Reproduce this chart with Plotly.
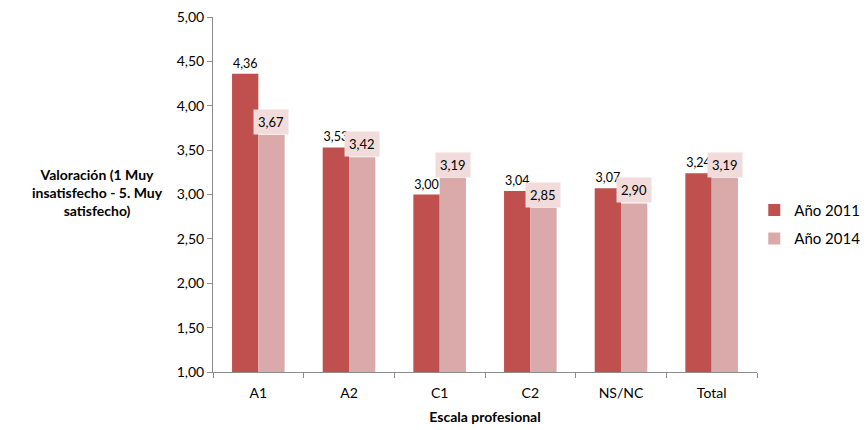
import plotly.graph_objects as go

categories = ["A1", "A2", "C1", "C2", "NS/NC", "Total"]
v2011 = [4.36, 3.53, 3.00, 3.04, 3.07, 3.24]
v2014 = [3.67, 3.42, 3.19, 2.85, 2.90, 3.19]
series_names = ["Año 2011", "Año 2014"]
ytick_vals = [1.0, 1.5, 2.0, 2.5, 3.0, 3.5, 4.0, 4.5, 5.0]

FONT = "Lato"
c2011 = "#C0504D"
c2014 = "#DAA9A9"

def fmt(v):
    return f"{v:.2f}".replace(".", ",")

fig = go.Figure()
fig.add_trace(go.Bar(x=categories, y=v2011, name=series_names[0], marker_color=c2011,
                     marker_line_width=0, legendgroup="a",
                     text=[fmt(v) for v in v2011], textposition="outside",
                     textfont=dict(size=12.5, color="#000000", family=FONT), cliponaxis=False))
fig.add_trace(go.Bar(x=categories, y=v2014, name=series_names[1], marker_color=c2014,
                     marker_line_width=0, legendgroup="b"))

for c, v in zip(categories, v2014):
    fig.add_annotation(x=c, y=v, text=fmt(v), showarrow=False, xshift=13, yshift=0,
                       yanchor="bottom", bgcolor="#F2DCDB", borderpad=4,
                       font=dict(size=13, color="#000000", family=FONT))

fig.add_annotation(xref="paper", yref="paper", x=-0.213, y=0.505,
                   text="<b>Valoración (1 Muy<br>insatisfecho - 5. Muy<br>satisfecho)</b>",
                   showarrow=False, align="center", xanchor="center", yanchor="middle",
                   font=dict(size=14, color="#000000", family=FONT))

fig.update_layout(
    width=860, height=422,
    margin=dict(l=205, r=111, t=9, b=58, autoexpand=False),
    paper_bgcolor="white", plot_bgcolor="white",
    separators=",.",
    barmode="group", bargap=0.42, bargroupgap=0.0,
    font=dict(family=FONT, size=13, color="#000000"),
    showlegend=True,
    legend=dict(x=0.995, y=0.416, xanchor="left", yanchor="middle",
                font=dict(size=15, family=FONT), traceorder="grouped",
                tracegroupgap=6, itemwidth=30,
                bgcolor="rgba(0,0,0,0)"),
    xaxis=dict(title=dict(text="<b>Escala profesional</b>", font=dict(size=14), standoff=12),
               automargin=False, ticklabelstandoff=8,
               showline=True, linecolor="#8C8C8C", linewidth=1,
               ticks="outside", tickson="boundaries", ticklen=5, tickcolor="#8C8C8C",
               tickfont=dict(size=14)),
    yaxis=dict(range=[1, 5], tickvals=ytick_vals, tickformat=".2f", automargin=False,
               ticklabeloverflow="allow",
               showline=True, linecolor="#8C8C8C", linewidth=1,
               ticks="outside", ticklen=5, tickcolor="#8C8C8C",
               showgrid=False, zeroline=False, tickfont=dict(size=14)),
)

fig.write_html("out.html")
